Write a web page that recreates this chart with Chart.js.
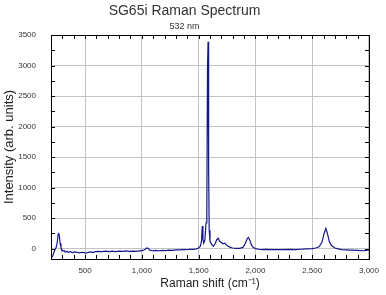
<!DOCTYPE html>
<html>
<head>
<meta charset="utf-8">
<script src="https://cdn.jsdelivr.net/npm/chart.js@4"></script>
<style>
  html, body { margin: 0; padding: 0; background: #fff; }
  #wrap { width: 386px; height: 295px; }
</style>
</head>
<body>
<div id="wrap"><canvas id="raman"></canvas></div>
<script>
// spectrum (cm-1 / intensity)
const shift = [
  200, 215, 230, 245, 255, 262, 268, 274, 280, 288, 296, 305, 315, 325, 340, 355, 370, 390, 410, 430,
  450, 470, 490, 510, 530, 550, 570, 590, 620, 650, 680, 710, 740, 770, 800, 830, 860, 890, 920, 950,
  980, 1010, 1030, 1045, 1055, 1070, 1090, 1120, 1150, 1180, 1210, 1240, 1270, 1300, 1330, 1360, 1390, 1420, 1450, 1480,
  1500, 1515, 1525, 1532, 1538, 1545, 1555, 1565, 1572, 1578, 1583, 1588, 1593, 1600, 1615, 1630, 1645, 1660, 1672, 1685,
  1700, 1715, 1730, 1745, 1760, 1780, 1800, 1830, 1860, 1890, 1910, 1925, 1937, 1950, 1965, 1980, 2000, 2030, 2060, 2100,
  2150, 2200, 2250, 2300, 2350, 2400, 2450, 2500, 2530, 2560, 2585, 2605, 2620, 2635, 2650, 2670, 2700, 2730, 2760, 2800,
  2850, 2900, 2950, 2980, 3000
];
const intensity = [
  -165, -120, -40, 20, 100, 230, 260, 200, 90, 20, -20, -40, -30, -55, -45, -60, -50, -65, -55, -60,
  -70, -60, -65, -75, -60, -55, -65, -50, -45, -50, -40, -48, -42, -50, -40, -45, -38, -45, -40, -45,
  -38, -30, -10, 10, 5, -25, -35, -30, -35, -28, -32, -25, -28, -20, -22, -15, -18, -10, -12, -5,
  10, 40, 120, 370, 150, 90, 140, 420, 590, 2950, 3390, 1300, 300, 120, 70, 40, 80, 150, 170, 120,
  100, 80, 90, 60, 40, 20, 10, 5, 5, 20, 80, 150, 185, 140, 60, 20, 0, -10, -15, -12,
  -18, -15, -18, -12, -15, -10, -5, 0, 10, 30, 100, 250, 330, 240, 120, 50, 10, -5, -15, -20,
  -25, -30, -35, -30, -20
];

const xTicks = [500, 1000, 1500, 2000, 2500, 3000];
const yTicks = [0, 500, 1000, 1500, 2000, 2500, 3000, 3500];

// black box + little inward ticks on all four sides
const frame = {
  id: 'frame',
  afterDraw(chart) {
    const { ctx, chartArea: a, scales: { x, y } } = chart;
    ctx.save();
    ctx.strokeStyle = '#000';
    ctx.lineWidth = 1;
    ctx.beginPath();
    for (let v = 300; v < 3000; v += 100) {
      const px = Math.round(x.getPixelForValue(v)) + 0.5;
      ctx.moveTo(px, a.bottom); ctx.lineTo(px, a.bottom - 4);
      ctx.moveTo(px, a.top); ctx.lineTo(px, a.top + 4);
    }
    for (let v = 0; v < 3500; v += 250) {
      const py = Math.round(y.getPixelForValue(v)) + 0.5;
      ctx.moveTo(a.left, py); ctx.lineTo(a.left + 4, py);
      ctx.moveTo(a.right, py); ctx.lineTo(a.right - 4, py);
    }
    ctx.stroke();
    ctx.strokeRect(Math.round(a.left) + 0.5, Math.round(a.top) + 0.5,
      Math.round(a.right - a.left), Math.round(a.bottom - a.top));
    ctx.restore();
  }
};

const ctx = document.getElementById('raman').getContext('2d');
new Chart(ctx, {
  type: 'line',
  data: {
    datasets: [{
      data: shift.map((s, i) => ({ x: s, y: intensity[i] })),
      borderColor: '#16168a',
      borderWidth: 1.2,
      pointRadius: 0,
      tension: 0,
      fill: false
    }]
  },
  options: {
    responsive: true,
    maintainAspectRatio: false,
    animation: false,
    devicePixelRatio: 1,
    layout: { padding: { top: 0, right: 17, bottom: 0, left: 0 } },
    plugins: {
      legend: { display: false },
      tooltip: { enabled: false },
      title: {
        display: true,
        text: 'SG65i Raman Spectrum',
        color: '#333',
        font: { family: 'Liberation Sans, Arial', size: 14, weight: 'normal' },
        padding: { top: 3, bottom: 0 }
      },
      subtitle: {
        display: true,
        text: '532 nm',
        color: '#333',
        font: { family: 'Liberation Sans, Arial', size: 9 },
        padding: { top: 1, bottom: 3.4 }
      }
    },
    scales: {
      x: {
        type: 'linear',
        min: 200,
        max: 3000,
        afterBuildTicks: s => { s.ticks = xTicks.map(v => ({ value: v })); },
        afterFit: s => { s.height = 36; },
        grid: { color: '#c4c4c4', drawTicks: false },
        border: { display: false },
        ticks: {
          padding: 7,
          maxRotation: 0,
          color: '#333',
          font: { family: 'Liberation Sans, Arial', size: 8 },
          callback: v => v.toLocaleString('en-US')
        },
        title: {
          display: true,
          text: 'Raman shift (cm⁻¹)',
          color: '#222',
          font: { family: 'Liberation Sans, Arial', size: 12 },
          padding: { top: 0, bottom: 4 }
        }
      },
      y: {
        min: -170,
        max: 3500,
        afterBuildTicks: s => { s.ticks = yTicks.map(v => ({ value: v })); },
        afterFit: s => { s.width = 51; },
        grid: { color: '#c4c4c4', drawTicks: false },
        border: { display: false },
        ticks: {
          padding: 15,
          color: '#333',
          font: { family: 'Liberation Sans, Arial', size: 8 },
          callback: v => String(v)
        },
        title: {
          display: true,
          text: 'Intensity (arb. units)',
          color: '#222',
          font: { family: 'Liberation Sans, Arial', size: 13 },
          padding: { top: 2, bottom: 0 }
        }
      }
    }
  },
  plugins: [frame]
});
</script>
</body>
</html>
